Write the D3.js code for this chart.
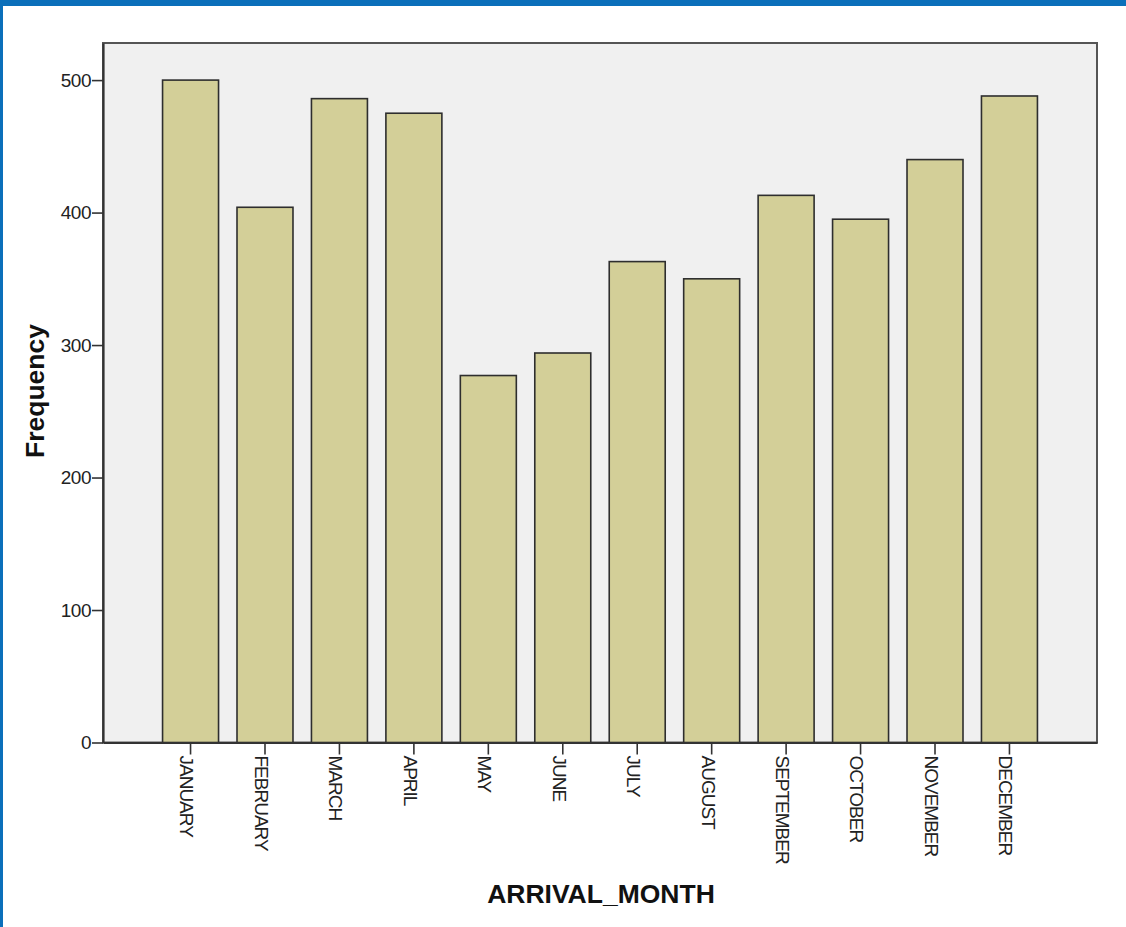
<!DOCTYPE html>
<html>
<head>
<meta charset="utf-8">
<script src="https://cdn.jsdelivr.net/npm/d3@7"></script>
<style>
  html, body { margin: 0; padding: 0; background: #fff; }
  svg { display: block; }
</style>
</head>
<body>
<svg id="chart" width="1126" height="927"></svg>
<script>
const months = ["JANUARY","FEBRUARY","MARCH","APRIL","MAY","JUNE","JULY","AUGUST","SEPTEMBER","OCTOBER","NOVEMBER","DECEMBER"];
const frequency = [500, 404, 486, 475, 277, 294, 363, 350, 413, 395, 440, 488];
const yTicks = [0, 100, 200, 300, 400, 500];
const xTitle = "ARRIVAL_MONTH";
const yTitle = "Frequency";

const svg = d3.select("#chart");
const W = 1126, H = 927;
const plot = { left: 103, right: 1097, top: 43, bottom: 742.5 };

// page frame (blue border)
svg.append("rect").attr("x", 0).attr("y", 0).attr("width", W).attr("height", 6).attr("fill", "#0b6fba");
svg.append("rect").attr("x", 0).attr("y", 0).attr("width", 3).attr("height", H).attr("fill", "#0b6fba");

const x = d3.scaleBand().domain(months).range([plot.left, plot.right]).paddingInner(0.248).paddingOuter(0.8);
const y = d3.scaleLinear().domain([0, 528]).range([plot.bottom, plot.top]);

// plot background
svg.append("rect")
  .attr("x", plot.left).attr("y", plot.top)
  .attr("width", plot.right - plot.left).attr("height", plot.bottom - plot.top)
  .attr("fill", "#f0f0f0").attr("stroke", "#555").attr("stroke-width", 2);

// bars
svg.append("g").selectAll("rect").data(months).join("rect")
  .attr("x", d => x(d))
  .attr("y", (d, i) => y(frequency[i]))
  .attr("width", x.bandwidth())
  .attr("height", (d, i) => y(0) - y(frequency[i]))
  .attr("fill", "#d3cf98")
  .attr("stroke", "#2e2e2e")
  .attr("stroke-width", 1.6);

// y axis
const yAxis = d3.axisLeft(y).tickValues(yTicks).tickSize(11).tickPadding(1).tickSizeOuter(0);
const gy = svg.append("g").attr("transform", `translate(${plot.left},0)`).call(yAxis);
gy.select(".domain").attr("stroke", "#333").attr("stroke-width", 2.2);
gy.selectAll(".tick line").attr("stroke", "#333").attr("stroke-width", 1.6);
gy.selectAll(".tick text").attr("font-family", "'Liberation Sans', Arial, sans-serif")
  .attr("font-size", 19).attr("fill", "#222").attr("letter-spacing", "-0.5px");

// x axis
const xAxis = d3.axisBottom(x).tickSize(12).tickSizeOuter(0);
const gx = svg.append("g").attr("transform", `translate(0,${plot.bottom})`).call(xAxis);
gx.select(".domain").attr("stroke", "#333").attr("stroke-width", 2.2);
gx.selectAll(".tick line").attr("stroke", "#333").attr("stroke-width", 1.6);
gx.selectAll(".tick text")
  .attr("font-family", "'Liberation Sans', Arial, sans-serif")
  .attr("font-size", 19).attr("fill", "#222").attr("letter-spacing", "-1px")
  .attr("text-anchor", "start")
  .attr("transform", "rotate(90)")
  .attr("x", 13).attr("y", 0).attr("dy", "0.53em");

// axis titles
svg.append("text")
  .attr("x", 601).attr("y", 903)
  .attr("text-anchor", "middle")
  .attr("font-family", "'Liberation Sans', Arial, sans-serif")
  .attr("font-weight", "bold").attr("font-size", 26.5).attr("fill", "#111")
  .text(xTitle);

svg.append("text")
  .attr("transform", "translate(44,391) rotate(-90)")
  .attr("text-anchor", "middle")
  .attr("font-family", "'Liberation Sans', Arial, sans-serif")
  .attr("font-weight", "bold").attr("font-size", 26.5).attr("fill", "#111")
  .text(yTitle);
</script>
</body>
</html>
